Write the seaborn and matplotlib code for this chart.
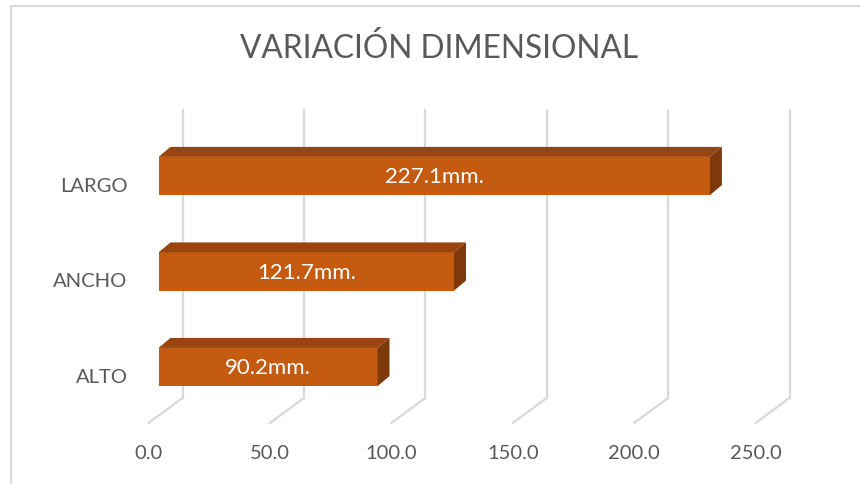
import matplotlib
matplotlib.use("Agg")
import matplotlib.pyplot as plt
import seaborn as sns
import pandas as pd
from matplotlib.patches import Polygon, Rectangle
from matplotlib.lines import Line2D

categories = ["LARGO", "ANCHO", "ALTO"]
values = [227.1, 121.7, 90.2]
value_labels = ["227.1mm.", "121.7mm.", "90.2mm."]
x_ticks = [0, 50, 100, 150, 200, 250]
x_tick_labels = ["0.0", "50.0", "100.0", "150.0", "200.0", "250.0"]
title = "VARIACIÓN DIMENSIONAL"

FRONT = "#C55A11"
TOP = "#984510"
SIDE = "#7E390B"
GRID = "#D9D9D9"
TEXT = "#595959"

sns.set_theme(style="white")
plt.rcParams["font.family"] = ["Lato", "DejaVu Sans"]

W, H, DPI = 860, 484, 100
fig = plt.figure(figsize=(W / DPI, H / DPI), dpi=DPI)

# axes placement in pixels (front plane)
x0_px, x1_px = 158.5, 158.5 + 250 * 2.428
y_top_px, y_bot_px = 110, 423
ax = fig.add_axes([x0_px / W, 1 - y_bot_px / H, (x1_px - x0_px) / W, (y_bot_px - y_top_px) / H])

df = pd.DataFrame({"cat": categories, "val": values})
sns.barplot(data=df, x="val", y="cat", orient="h", color=FRONT, width=0.4,
            saturation=1, ax=ax, zorder=3, edgecolor="none")

ax.set_xlim(0, 250)
ax.set_ylim(2.586, -0.691)
ax.axis("off")

# pixel -> data conversions
px_x = 250 / (x1_px - x0_px)
px_y = (2.586 + 0.691) / (y_bot_px - y_top_px)

ddx, ddy = 12 * px_x, 10 * px_y  # bar depth
grid_dx = 24 * px_x
floor_front_dx = -10 * px_x
floor_back_y = -0.691 + (398 - y_top_px) * px_y
floor_front_y = 2.586

# back-wall gridlines and floor lines
for t in x_ticks:
    ax.add_line(Line2D([t + grid_dx, t + grid_dx], [-0.691, floor_back_y],
                       color=GRID, lw=1.6, zorder=1, clip_on=False))
    ax.add_line(Line2D([t + floor_front_dx, t + grid_dx], [floor_front_y, floor_back_y],
                       color=GRID, lw=1.6, zorder=1, clip_on=False))

# 3D faces of bars
for p, lab in zip(ax.patches, value_labels):
    xa = p.get_x()
    xb = xa + p.get_width()
    ya = p.get_y()               # upper edge (inverted axis)
    yb = ya + p.get_height()
    top = Polygon([(xa, ya), (xb, ya), (xb + ddx, ya - ddy), (xa + ddx, ya - ddy)],
                  closed=True, facecolor=TOP, edgecolor="none", zorder=3, clip_on=False)
    side = Polygon([(xb, ya), (xb + ddx, ya - ddy), (xb + ddx, yb - ddy), (xb, yb)],
                   closed=True, facecolor=SIDE, edgecolor="none", zorder=3, clip_on=False)
    ax.add_patch(top)
    ax.add_patch(side)
    ax.text((xa + xb) / 2, (ya + yb) / 2 + 1 * px_y, lab, color="white", fontsize=16,
            ha="center", va="center", zorder=5)

# category labels
for i, c in enumerate(categories):
    ax.text(-31 * px_x, i + 10 * px_y, c, color=TEXT, fontsize=14.5,
            ha="right", va="center", clip_on=False)

# x tick labels
for t, lab in zip(x_ticks, x_tick_labels):
    ax.text(t + floor_front_dx, 2.586 + 30 * px_y, lab, color=TEXT, fontsize=14.5,
            ha="center", va="center", clip_on=False)

fig.text(439 / W, 1 - 48 / H, title, color=TEXT, fontsize=22.8, ha="center", va="center")

# chart area border
fig.add_artist(Rectangle((10.5 / W, -0.1), 1.2, 1 - 6 / H + 0.1, transform=fig.transFigure,
                         fill=False, edgecolor="#D9D9D9", lw=1.5))

fig.savefig("out.png", dpi=DPI, facecolor="white")
